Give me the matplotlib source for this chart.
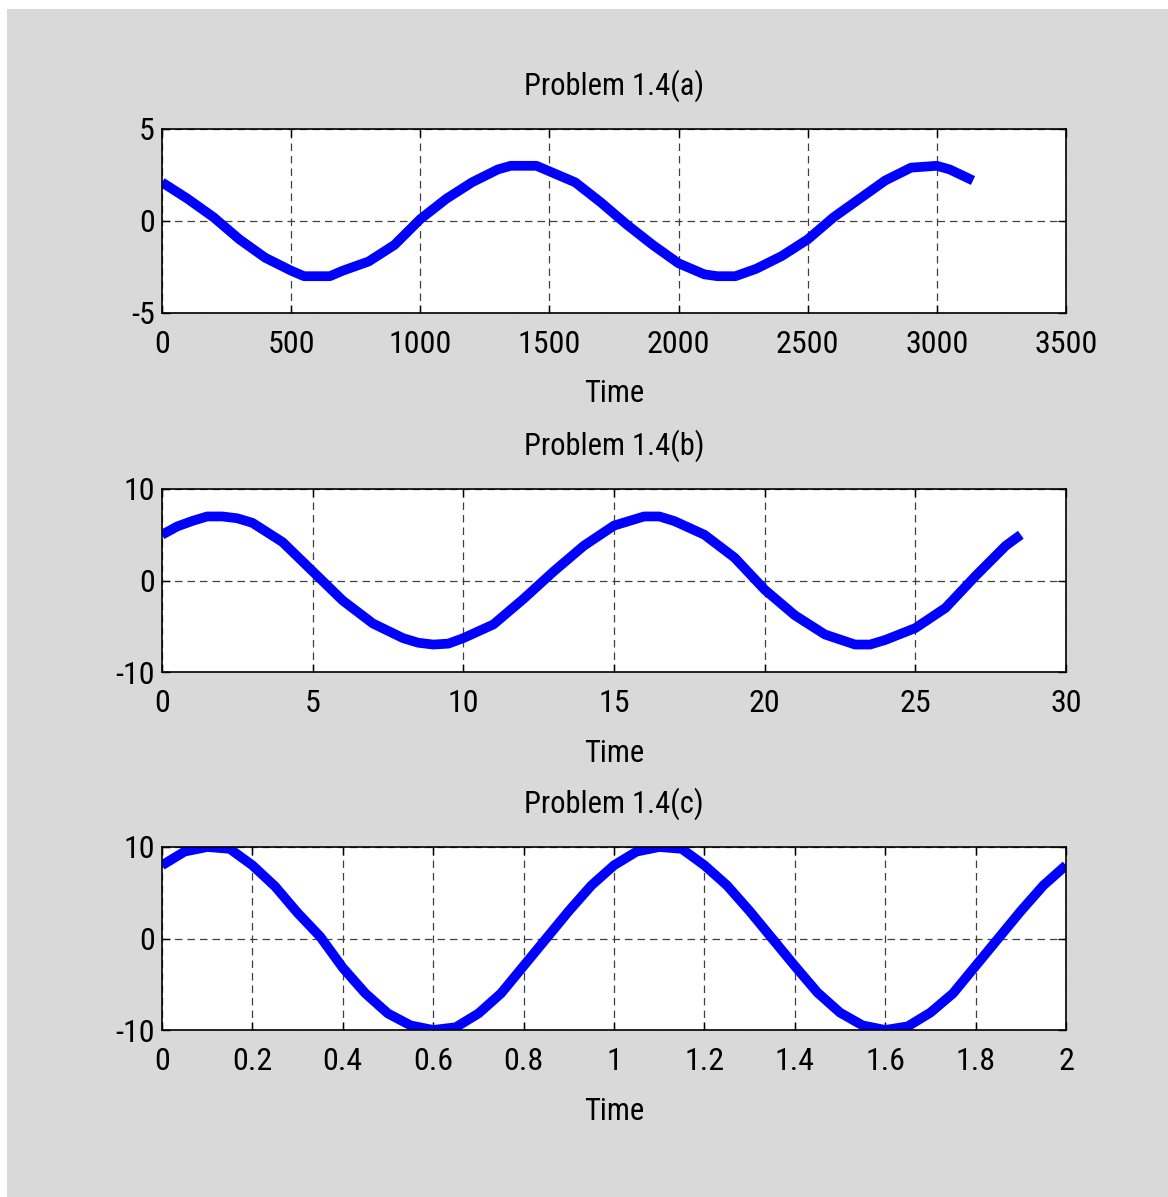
import matplotlib
matplotlib.use("Agg")
import matplotlib.pyplot as plt
from matplotlib.patches import Rectangle
from matplotlib import font_manager

# Problem 1.4(a)
t_a = [0, 100, 200, 300, 400, 500, 550, 650, 700, 800, 900, 1000, 1100, 1200, 1300,
       1350, 1450, 1500, 1600, 1700, 1800, 1900, 2000, 2100, 2150, 2220, 2300, 2400,
       2500, 2600, 2700, 2800, 2900, 3000, 3050, 3140]
x_a = [2.1, 1.2, 0.2, -1.0, -2.0, -2.7, -3.0, -3.0, -2.7, -2.2, -1.3, 0.1, 1.2, 2.1, 2.8,
       3.0, 3.0, 2.7, 2.1, 1.0, -0.2, -1.3, -2.3, -2.9, -3.0, -3.0, -2.6, -1.9,
       -1.0, 0.2, 1.2, 2.2, 2.9, 3.0, 2.8, 2.2]

# Problem 1.4(b)
t_b = [0, 0.5, 1, 1.5, 2, 2.5, 3, 4, 5, 6, 7, 8, 8.5, 9, 9.5, 10, 11, 12, 13, 14, 15,
       16, 16.5, 17, 18, 19, 20, 21, 22, 23, 23.5, 24, 25, 26, 27, 28, 28.5]
x_b = [5.0, 5.9, 6.5, 7.0, 7.0, 6.8, 6.3, 4.2, 1.0, -2.2, -4.7, -6.3, -6.8, -7.0, -6.9,
       -6.3, -4.8, -2.0, 1.0, 3.8, 6.0, 7.0, 7.0, 6.5, 5.0, 2.5, -1.0, -3.8, -5.9,
       -7.0, -7.0, -6.5, -5.2, -3.0, 0.5, 3.8, 5.0]

# Problem 1.4(c)
t_c = [0, 0.05, 0.1, 0.15, 0.2, 0.25, 0.3, 0.35, 0.4, 0.45, 0.5, 0.55, 0.6, 0.65, 0.7,
       0.75, 0.8, 0.85, 0.9, 0.95, 1.0, 1.05, 1.1, 1.15, 1.2, 1.25, 1.3, 1.35, 1.4,
       1.45, 1.5, 1.55, 1.6, 1.65, 1.7, 1.75, 1.8, 1.85, 1.9, 1.95, 2.0]
x_c = [8.0, 9.5, 10, 9.8, 8.0, 5.7, 2.8, 0.2, -3.2, -6.0, -8.2, -9.5, -10, -9.7, -8.2,
       -6.0, -3.0, 0.0, 3.0, 5.8, 8.0, 9.5, 10, 9.8, 8.0, 5.8, 3.0, 0.0, -3.0,
       -5.9, -8.1, -9.5, -10, -9.6, -8.1, -6.0, -3.0, 0.0, 3.0, 5.8, 8.0]

panels = [
    ("Problem 1.4(a)", t_a, x_a, (0, 3500), list(range(0, 3501, 500)), (-5, 5), [-5, 0, 5]),
    ("Problem 1.4(b)", t_b, x_b, (0, 30), list(range(0, 31, 5)), (-10, 10), [-10, 0, 10]),
    ("Problem 1.4(c)", t_c, x_c, (0, 2), [0, 0.2, 0.4, 0.6, 0.8, 1, 1.2, 1.4, 1.6, 1.8, 2],
     (-10, 10), [-10, 0, 10]),
]

names = {f.name for f in font_manager.fontManager.ttflist}
fam = ["Liberation Sans"]
for cand in ["Liberation Sans Narrow", "Arial Narrow", "Roboto Condensed"]:
    if cand in names:
        fam = [cand]
        break
plt.rcParams["font.family"] = fam + ["DejaVu Sans"]

W, H = 1168, 1197
fig = plt.figure(figsize=(W / 100, H / 100), dpi=100, facecolor="white")
fig.patches.append(Rectangle((7 / W, 0), 1, 1 - 9 / H, transform=fig.transFigure,
                             facecolor="#d9d9d9", edgecolor="none", zorder=-10))

left, right = 162 / W, 1066 / W
tops = [129, 489, 847]
bottoms = [313, 672, 1030]

def fmt(v):
    if float(v).is_integer():
        return str(int(v))
    return "%g" % v

for (title, t, x, xl, xt, yl, yt), top, bot in zip(panels, tops, bottoms):
    ax = fig.add_axes([left, 1 - bot / H, right - left, (bot - top) / H])
    ax.plot(t, x, color="#0000ff", lw=7, solid_capstyle="butt")
    ax.set_xlim(*xl)
    ax.set_ylim(*yl)
    ax.set_xticks(xt)
    ax.set_xticklabels([fmt(v) for v in xt])
    ax.set_yticks(yt)
    ax.set_yticklabels([fmt(v) for v in yt])
    ax.grid(True, color="#404040", linestyle=(0, (6, 4)), linewidth=0.9)
    ax.tick_params(direction="in", top=True, right=True, length=6, width=1,
                   labelsize=23)
    ax.tick_params(axis="x", pad=12)
    ax.tick_params(axis="y", pad=5)
    for s in ax.spines.values():
        s.set_linewidth(1.2)
    ax.set_title(title, fontsize=22, pad=25)
    ax.set_xlabel("Time", fontsize=22, labelpad=15)

fig.savefig("out.png", dpi=100, facecolor=fig.get_facecolor())
